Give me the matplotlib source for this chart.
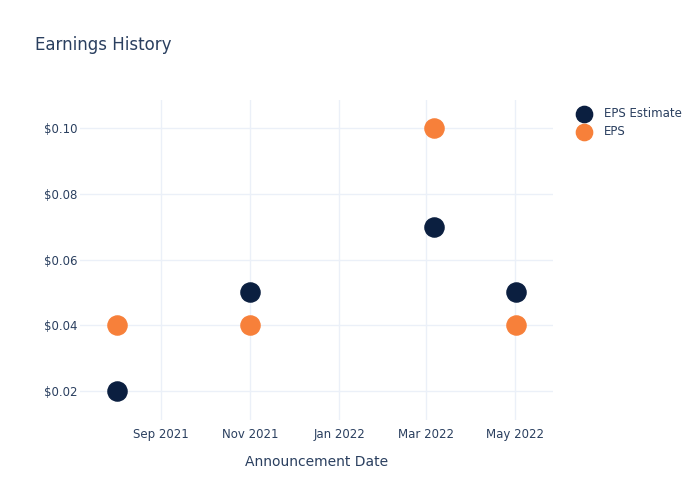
import numpy as np
import pandas as pd
import matplotlib.pyplot as plt
import matplotlib.dates as mdates
from matplotlib.ticker import FuncFormatter

# data
dates = pd.to_datetime(["2021-08-02", "2021-11-01", "2022-03-07", "2022-05-02"])
eps_estimate = [0.02, 0.05, 0.07, 0.05]
eps_actual = [0.04, 0.04, 0.10, 0.04]

txt = '#2a3f5f'
grid = '#ebf0f8'
navy = '#0b1f40'
orange = '#f7803a'

plt.rcParams['font.family'] = 'DejaVu Sans'
fig = plt.figure(figsize=(7, 5), dpi=100)
ax = fig.add_axes([0.1143, 0.16, 0.6757, 0.64])

ax.scatter(dates, eps_estimate, s=190, color=navy, label='EPS Estimate', zorder=3)
ax.scatter(dates, eps_actual, s=190, color=orange, label='EPS', zorder=3)

ax.set_ylim(0.0112, 0.1085)
ax.set_xlim(pd.Timestamp("2021-07-08"), pd.Timestamp("2022-05-27"))
ax.set_yticks([0.02, 0.04, 0.06, 0.08, 0.10])
ax.yaxis.set_major_formatter(FuncFormatter(lambda v, p: f"${v:.2f}"))
ax.xaxis.set_major_locator(mdates.MonthLocator(bymonth=[1, 3, 5, 9, 11]))
ax.xaxis.set_major_formatter(mdates.DateFormatter('%b %Y'))

ax.grid(True, color=grid, linewidth=1)
ax.set_axisbelow(True)
for sp in ax.spines.values():
    sp.set_visible(False)
ax.tick_params(axis='both', length=0, colors=txt, labelsize=8.5, pad=6)
ax.tick_params(axis='y', pad=2)

ax.set_xlabel('Announcement Date', color=txt, fontsize=10, labelpad=10)
fig.text(0.05, 0.91, 'Earnings History', color=txt, fontsize=12, va='center')

leg = ax.legend(loc='upper left', bbox_to_anchor=(1.025, 1.0), frameon=False,
                fontsize=8.5, labelcolor=txt, handletextpad=0.7, labelspacing=0.45,
                borderaxespad=0.2, markerscale=0.85)

fig.savefig('out.png', dpi=100, facecolor='white')
